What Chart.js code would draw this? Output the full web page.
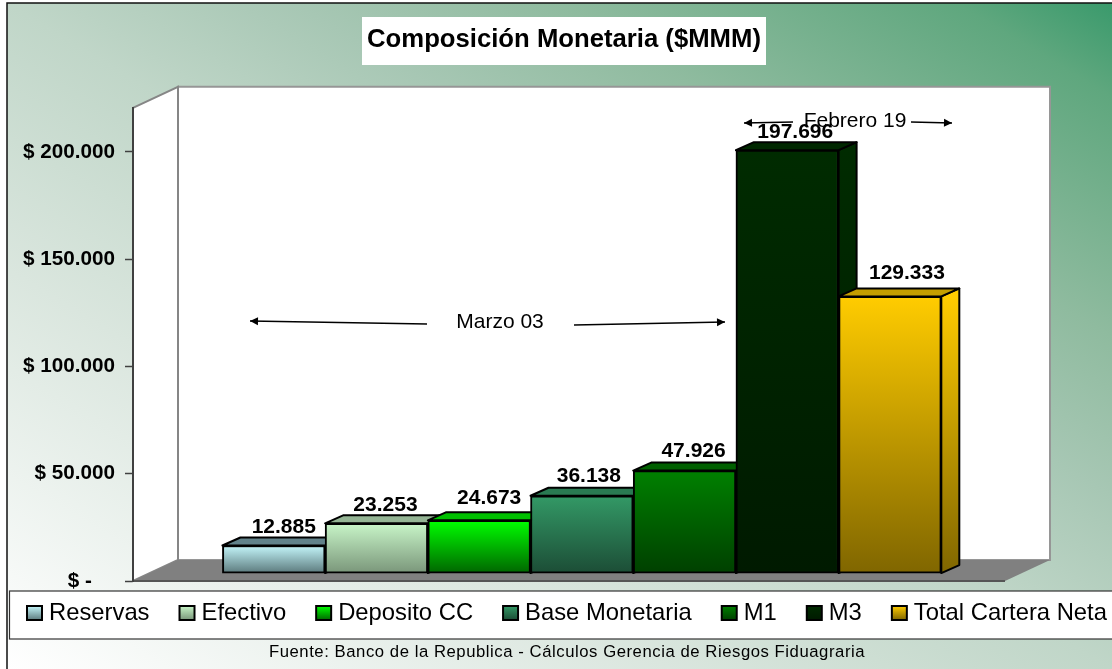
<!DOCTYPE html>
<html lang="es">
<head>
  <meta charset="UTF-8">
  <title>Composición Monetaria</title>
  <style>
    html, body { margin: 0; padding: 0; background: #fff; overflow: hidden; }
    #wrap { width: 1112px; height: 669px; }
  </style>
</head>
<body>
  <div id="wrap"><canvas id="chart" width="1112" height="669"></canvas></div>
  <script src="https://cdn.jsdelivr.net/npm/chart.js@4.4.3/dist/chart.umd.min.js"></script>
  <script>
    // Data
    const seriesNames = ['Reservas', 'Efectivo', 'Deposito CC', 'Base Monetaria', 'M1', 'M3', 'Total Cartera Neta'];
    const seriesValues = [12885, 23253, 24673, 36138, 47926, 197696, 129333];
    const yTickValues = [0, 50000, 100000, 150000, 200000];
    const yTickLabels = ['$ -    ', '$ 50.000', '$ 100.000', '$ 150.000', '$ 200.000'];
    const chartTitle = 'Composición Monetaria ($MMM)';
    const sourceNote = 'Fuente: Banco de la Republica - Cálculos Gerencia de Riesgos Fiduagraria';

    // Bar colours, one per series
    const topColors = ['#c4f6fa', '#c8f5c8', '#00ff00', '#339966', '#008000', '#002b00', '#ffcc00'];
    const bottomColors = ['#5c7a7d', '#7a967a', '#006600', '#1c4d36', '#004000', '#001a00', '#806600'];
    const capColors = ['#62828a', '#94b494', '#00c000', '#2a7a52', '#006000', '#002800', '#c49e00'];

    // Hand placed value labels, offset from the top centre of each bar
    const labelDx = [10, 9, 10, 7, 9, 8, 17];
    const labelDy = [-18, -18, -22, -20, -19, -18, -23];

    const FONT = '"Liberation Sans", Arial, sans-serif';
    const wallDepth = { x: 45, y: 21 };   // floor and walls
    const barDepth = { x: 18, y: 8 };     // side of each bar

    function barGradient(chart, i) {
      const scale = chart.scales.yBars;
      const y0 = scale.getPixelForValue(seriesValues[i]);
      const y1 = scale.getPixelForValue(0);
      // scales have no pixels yet on the very first options pass
      if (!isFinite(y0) || !isFinite(y1)) return topColors[i];
      const g = chart.ctx.createLinearGradient(0, y0, 0, y1);
      g.addColorStop(0, topColors[i]);
      g.addColorStop(1, bottomColors[i]);
      return g;
    }

    function polygon(ctx, pts, fill, stroke, width) {
      ctx.beginPath();
      pts.forEach((p, i) => i ? ctx.lineTo(p[0], p[1]) : ctx.moveTo(p[0], p[1]));
      ctx.closePath();
      if (fill) { ctx.fillStyle = fill; ctx.fill(); }
      if (stroke) { ctx.strokeStyle = stroke; ctx.lineWidth = width; ctx.stroke(); }
    }

    function arrow(ctx, x1, y1, x2, y2) {
      const a = Math.atan2(y2 - y1, x2 - x1);
      ctx.strokeStyle = '#000';
      ctx.fillStyle = '#000';
      ctx.lineWidth = 1.5;
      ctx.beginPath();
      ctx.moveTo(x1, y1);
      ctx.lineTo(x2, y2);
      ctx.stroke();
      ctx.beginPath();
      ctx.moveTo(x2, y2);
      ctx.lineTo(x2 - 8 * Math.cos(a) - 4 * Math.sin(a), y2 - 8 * Math.sin(a) + 4 * Math.cos(a));
      ctx.lineTo(x2 - 8 * Math.cos(a) + 4 * Math.sin(a), y2 - 8 * Math.sin(a) - 4 * Math.cos(a));
      ctx.closePath();
      ctx.fill();
    }

    // Page background, title box, 3D walls and floor
    const backdrop = {
      id: 'backdrop',
      beforeDraw(chart) {
        const { ctx, chartArea: a } = chart;
        ctx.save();
        // iso-colour lines run parallel to the top left / bottom right diagonal
        const bg = ctx.createLinearGradient(265, 824, 853, -152);
        bg.addColorStop(0, '#ffffff');
        bg.addColorStop(0.3, '#dae6de');
        bg.addColorStop(0.5, '#c0d6c8');
        bg.addColorStop(0.63, '#a7c7b4');
        bg.addColorStop(0.75, '#8fbb9f');
        bg.addColorStop(0.93, '#5fa77e');
        bg.addColorStop(1, '#3a9a6c');
        ctx.fillStyle = bg;
        ctx.fillRect(7, 3, 1105, 666);
        ctx.strokeStyle = '#111';
        ctx.lineWidth = 1.5;
        ctx.strokeRect(7, 3, 1110, 670);

        ctx.fillStyle = '#fff';
        ctx.fillRect(362, 17, 404, 48);

        const d = wallDepth;
        // back wall
        polygon(ctx, [[a.left + d.x, a.top - d.y], [a.right + d.x, a.top - d.y], [a.right + d.x, a.bottom - d.y], [a.left + d.x, a.bottom - d.y]], '#fff', '#969696', 2);
        // side wall
        polygon(ctx, [[a.left, a.top], [a.left + d.x, a.top - d.y], [a.left + d.x, a.bottom - d.y], [a.left, a.bottom]], '#fff', '#868686', 2);
        // floor
        polygon(ctx, [[a.left, a.bottom], [a.left + d.x, a.bottom - d.y], [a.right + d.x, a.bottom - d.y], [a.right, a.bottom]], '#808080');
        ctx.strokeStyle = '#555';
        ctx.lineWidth = 2;
        ctx.beginPath();
        ctx.moveTo(a.left, a.bottom);
        ctx.lineTo(a.right, a.bottom);
        ctx.stroke();
        ctx.restore();
      }
    };

    // Tops and right sides of the bars, the library paints the fronts over them
    const barSides = {
      id: 'barSides',
      beforeDatasetsDraw(chart) {
        const { ctx } = chart;
        ctx.save();
        ctx.lineJoin = 'round';
        seriesValues.forEach((v, i) => {
          const bar = chart.getDatasetMeta(i).data[0];
          const l = bar.x - bar.width / 2, r = bar.x + bar.width / 2;
          const t = bar.y, b = bar.base;
          const dx = barDepth.x, dy = barDepth.y;
          polygon(ctx, [[r, t], [r + dx, t - dy], [r + dx, b - dy], [r, b]], barGradient(chart, i), '#000', 2);
          polygon(ctx, [[l, t], [l + dx, t - dy], [r + dx, t - dy], [r, t]], capColors[i], '#000', 2);
        });
        ctx.restore();
      }
    };

    // Value labels, arrows, legend row and source note
    const overlays = {
      id: 'overlays',
      afterDraw(chart) {
        const { ctx } = chart;
        ctx.save();
        ctx.textBaseline = 'middle';

        // period notes
        ctx.fillStyle = '#000';
        ctx.textAlign = 'center';
        ctx.font = '21px ' + FONT;
        ctx.fillText('Marzo 03', 500, 322);
        ctx.fillText('Febrero 19', 855, 121);
        arrow(ctx, 427, 324, 250, 321);
        arrow(ctx, 574, 325, 725, 322);
        arrow(ctx, 793, 122, 744, 123);
        arrow(ctx, 911, 122, 952, 123);

        // value labels
        ctx.fillStyle = '#000';
        ctx.font = 'bold 21px ' + FONT;
        seriesValues.forEach((v, i) => {
          const bar = chart.getDatasetMeta(i).data[0];
          const text = String(v).replace(/\B(?=(\d{3})+$)/g, '.');
          ctx.fillText(text, bar.x + labelDx[i], bar.y + labelDy[i]);
        });

        // legend
        ctx.fillStyle = '#fff';
        ctx.fillRect(9.5, 591, 1110, 48);
        ctx.strokeStyle = '#333';
        ctx.lineWidth = 1.2;
        ctx.strokeRect(9.5, 591, 1110, 48);
        ctx.font = '23.8px ' + FONT;
        ctx.textAlign = 'left';
        let x = 27;
        seriesNames.forEach((name, i) => {
          const g = ctx.createLinearGradient(0, 606, 0, 620);
          g.addColorStop(0, topColors[i]);
          g.addColorStop(1, bottomColors[i]);
          ctx.fillStyle = g;
          ctx.fillRect(x, 606, 15, 14);
          ctx.strokeStyle = '#000';
          ctx.lineWidth = 2;
          ctx.strokeRect(x, 606, 15, 14);
          ctx.fillStyle = '#000';
          ctx.fillText(name, x + 22, 613);
          x += 22 + ctx.measureText(name).width + 30;
        });

        // source
        ctx.font = '16.7px ' + FONT;
        ctx.letterSpacing = '0.55px';
        ctx.textAlign = 'center';
        ctx.fillStyle = '#000';
        ctx.fillText(sourceNote, 567, 652);
        ctx.restore();
      }
    };

    const chart = new Chart(document.getElementById('chart'), {
      type: 'bar',
      data: {
        datasets: seriesNames.map((name, i) => ({
          label: name,
          data: [{ x: 0, y: seriesValues[i] }],
          yAxisID: 'yBars',
          barThickness: 102.7,
          backgroundColor: ctx => barGradient(ctx.chart, i),
          borderColor: '#000',
          borderWidth: 2,
          borderSkipped: false
        }))
      },
      options: {
        responsive: false,
        animation: false,
        layout: { padding: { left: 16, bottom: 88 } },
        scales: {
          // bars stand part of the way into the floor, so they get their own hidden axes
          x: { type: 'linear', display: false, min: -0.5172, max: 0.4828 },
          y: {
            position: 'left',
            bounds: 'data',
            min: 0,
            max: 220500,
            afterFit: s => { s.width = 117; },
            afterBuildTicks: s => { s.ticks = yTickValues.map(value => ({ value })); },
            border: { display: true, color: '#404040', width: 2 },
            grid: { drawOnChartArea: false, color: '#404040', tickLength: 8, tickWidth: 1.5 },
            ticks: {
              autoSkip: false,
              padding: 10,
              color: '#000',
              font: { family: FONT, size: 20.7, weight: 'bold' },
              callback: v => yTickLabels[yTickValues.indexOf(v)]
            }
          },
          yBars: {
            position: 'right',
            bounds: 'data',
            min: -3700,
            max: 217500,
            afterFit: s => { s.width = 107; },
            border: { display: false },
            grid: { display: false },
            ticks: { display: false }
          }
        },
        plugins: {
          legend: { display: false },
          tooltip: { enabled: false },
          title: {
            display: true,
            text: chartTitle,
            color: '#000',
            font: { family: FONT, size: 25.7, weight: 'bold' },
            padding: { top: 24, bottom: 53 }
          }
        }
      },
      plugins: [backdrop, barSides, overlays]
    });
  </script>
</body>
</html>
